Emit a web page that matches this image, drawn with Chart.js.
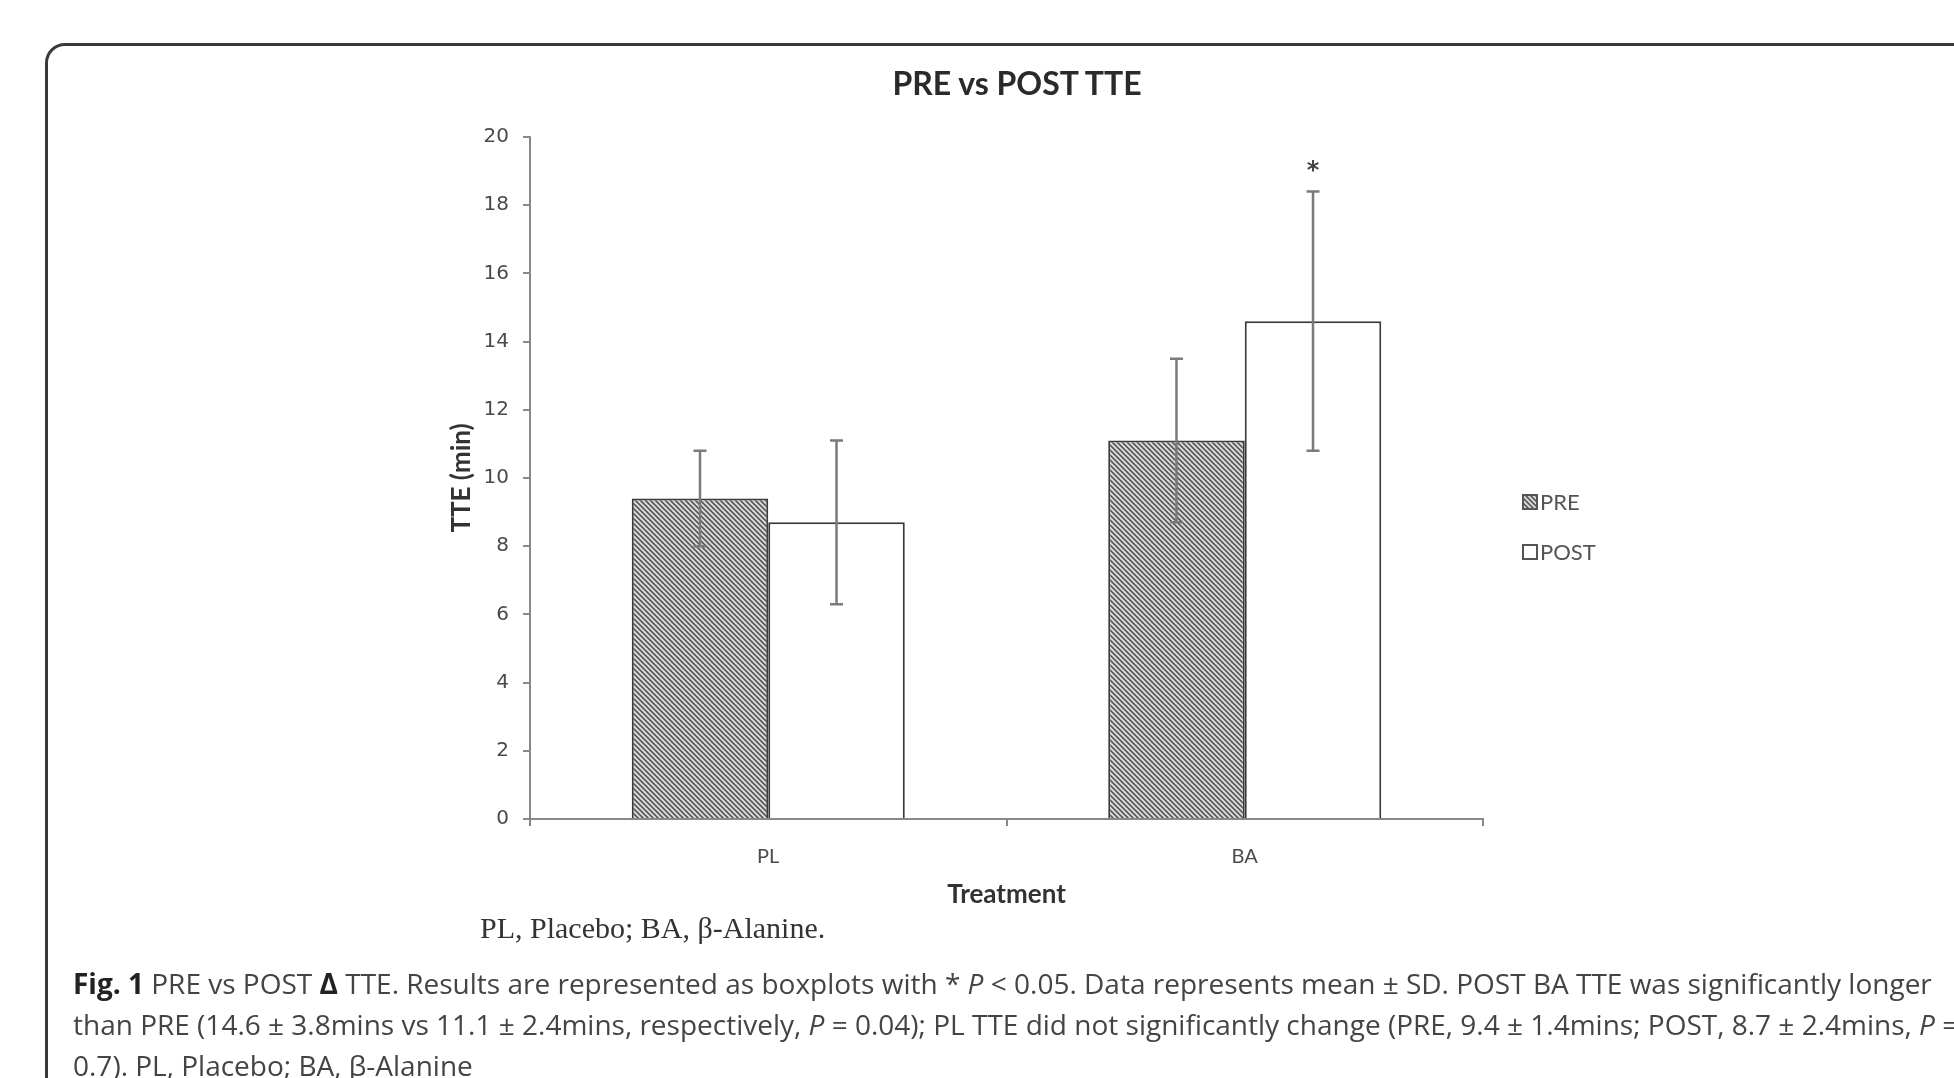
<!DOCTYPE html>
<html>
<head>
<meta charset="utf-8">
<script src="https://cdn.jsdelivr.net/npm/chart.js@4/dist/chart.umd.min.js"></script>
<style>
  html, body { margin: 0; padding: 0; background: #fff; }
  body { width: 1954px; height: 1078px; position: relative; overflow: hidden; }
  #chart-wrap { position: absolute; left: 0; top: 0; width: 1954px; height: 1078px; }
  .frame {
    position: absolute; left: 45px; top: 43px; width: 2100px; height: 1200px;
    border: 3px solid #3a3a3a; border-radius: 20px; box-sizing: border-box;
  }
  .chart-title {
    position: absolute; left: 0; width: 2034px; top: 63px; line-height: 40px;
    text-align: center; font-family: Lato, sans-serif; font-weight: bold;
    font-size: 32px; color: #2a2a2a;
  }
  .note {
    position: absolute; left: 480px; top: 911px;
    font-family: "Liberation Serif", serif; font-size: 30px; color: #333;
    white-space: nowrap;
  }
  .caption {
    position: absolute; left: 73px; top: 963px;
    font-family: "Open Sans", Lato, sans-serif; font-size: 28px; line-height: 41px;
    color: #444; white-space: nowrap;
  }
  .caption b { color: #222; }
</style>
</head>
<body>
<div class="frame"></div>
<div id="chart-wrap"><canvas id="tte-chart"></canvas></div>
<div class="chart-title">PRE vs POST TTE</div>
<div class="note">PL, Placebo; BA, β-Alanine.</div>
<div class="caption">
  <div><b>Fig. 1</b> PRE vs POST <b>Δ</b> TTE. Results are represented as boxplots with * <i>P</i> &lt; 0.05. Data represents mean ± SD. POST BA TTE was significantly longer</div>
  <div>than PRE (14.6 ± 3.8mins vs 11.1 ± 2.4mins, respectively, <i>P</i> = 0.04); PL TTE did not significantly change (PRE, 9.4 ± 1.4mins; POST, 8.7 ± 2.4mins, <i>P</i> =</div>
  <div>0.7). PL, Placebo; BA, β-Alanine</div>
</div>

<script>
const categories = ['PL', 'BA'];
const preMeans = [9.4, 11.1];
const preSD = [1.4, 2.4];
const postMeans = [8.7, 14.6];
const postSD = [2.4, 3.8];
const postMarks = ['', '*'];

// diagonal hatch used for the PRE bars
function makeHatch() {
    const tile = document.createElement('canvas');
    tile.width = 5;
    tile.height = 5;
    const c = tile.getContext('2d');
    c.fillStyle = '#d8d8d8';
    c.fillRect(0, 0, 5, 5);
    c.strokeStyle = '#4a4a4a';
    c.lineWidth = 1.5;
    c.beginPath();
    c.moveTo(-1, -1); c.lineTo(6, 6);
    c.moveTo(-1, 4); c.lineTo(1, 6);
    c.moveTo(4, -1); c.lineTo(6, 1);
    c.stroke();
    return c.createPattern(tile, 'repeat');
}

const hatch = makeHatch();
const condensed = 'Lato, "Open Sans", sans-serif';

const errorBars = {
    id: 'errorBars',
    afterDatasetsDraw(chart) {
        const { ctx, scales: { y } } = chart;
        ctx.save();
        chart.data.datasets.forEach((ds, i) => {
            const meta = chart.getDatasetMeta(i);
            meta.data.forEach((bar, j) => {
                const v = ds.data[j];
                const e = ds.sd[j];
                const top = y.getPixelForValue(v + e);
                const bot = y.getPixelForValue(v - e);
                ctx.strokeStyle = '#7a7a7a';
                ctx.lineWidth = 2.5;
                ctx.beginPath();
                ctx.moveTo(bar.x, top); ctx.lineTo(bar.x, bot);
                ctx.moveTo(bar.x - 6.5, top); ctx.lineTo(bar.x + 6.5, top);
                ctx.moveTo(bar.x - 6.5, bot); ctx.lineTo(bar.x + 6.5, bot);
                ctx.stroke();
                if (ds.marks && ds.marks[j]) {
                    ctx.fillStyle = '#444';
                    ctx.font = 'bold 24px "DejaVu Sans", sans-serif';
                    ctx.textAlign = 'center';
                    ctx.textBaseline = 'middle';
                    ctx.fillText(ds.marks[j], bar.x, top - 20);
                }
            });
        });
        ctx.restore();
    }
};

const sideLegend = {
    id: 'sideLegend',
    afterDraw(chart) {
        const { ctx, chartArea } = chart;
        const x = chartArea.right + 40;
        ctx.save();
        ctx.font = '22px ' + condensed;
        ctx.textBaseline = 'middle';
        chart.data.datasets.forEach((ds, i) => {
            const cy = chartArea.top + 365 + i * 50;
            ctx.fillStyle = ds.backgroundColor;
            ctx.fillRect(x, cy - 7, 14, 14);
            ctx.strokeStyle = '#555';
            ctx.lineWidth = 2;
            ctx.strokeRect(x, cy - 7, 14, 14);
            ctx.fillStyle = '#555';
            ctx.fillText(ds.label, x + 17, cy + 1);
        });
        ctx.restore();
    }
};

const ctx = document.getElementById('tte-chart').getContext('2d');
new Chart(ctx, {
    type: 'bar',
    data: {
        labels: categories,
        datasets: [
            {
                label: 'PRE',
                data: preMeans,
                sd: preSD,
                backgroundColor: hatch,
                borderColor: '#3a3a3a',
                borderWidth: 2
            },
            {
                label: 'POST',
                data: postMeans,
                sd: postSD,
                marks: postMarks,
                backgroundColor: '#ffffff',
                borderColor: '#3a3a3a',
                borderWidth: 2
            }
        ]
    },
    options: {
        responsive: true,
        maintainAspectRatio: false,
        animation: false,
        categoryPercentage: 0.573,
        barPercentage: 1.0,
        plugins: {
            legend: { display: false },
            tooltip: { enabled: false },
            title: { display: false }
        },
        layout: { padding: { left: 440, right: 471, top: 137, bottom: 164 } },
        scales: {
            x: {
                afterFit: (s) => { s.height = 95; },
                grid: { drawOnChartArea: false, tickLength: 7, color: '#888', lineWidth: 2 },
                border: { color: '#888', width: 2 },
                ticks: { color: '#4a4a4a', padding: 19, font: { family: condensed, size: 20 } },
                title: {
                    display: true,
                    text: 'Treatment',
                    color: '#333',
                    font: { family: condensed, size: 26, weight: 'bold', lineHeight: 1.2 },
                    padding: { top: 0, bottom: 4 }
                }
            },
            y: {
                min: 0,
                max: 20,
                afterFit: (s) => { s.width = 90; },
                grid: { drawOnChartArea: false, tickLength: 7, color: '#888', lineWidth: 2 },
                border: { color: '#888', width: 2 },
                ticks: { stepSize: 2, color: '#4a4a4a', padding: 14, font: { family: '"DejaVu Sans", sans-serif', size: 20 } },
                title: {
                    display: true,
                    text: 'TTE (min)',
                    color: '#333',
                    font: { family: condensed, size: 26, weight: 'bold', lineHeight: 1.2 },
                    padding: { top: 6, bottom: 0 }
                }
            }
        }
    },
    plugins: [errorBars, sideLegend]
});
</script>
</body>
</html>
